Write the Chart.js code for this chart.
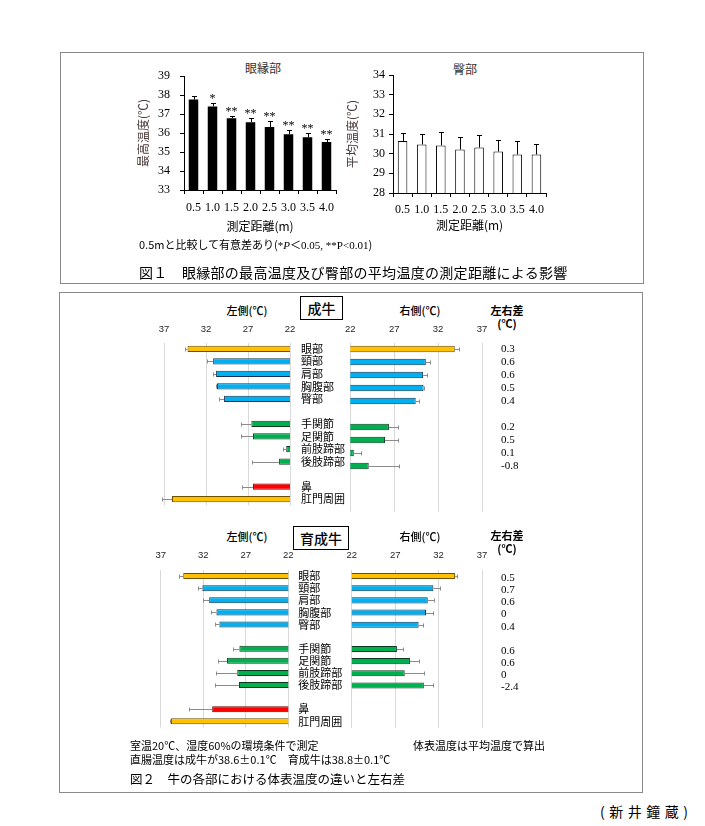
<!DOCTYPE html>
<html lang="ja">
<head>
<meta charset="utf-8">
<title>眼縁部・臀部の測定距離と牛の体表温度</title>
<script src="https://cdn.jsdelivr.net/npm/chart.js@4.4.1/dist/chart.umd.min.js"></script>
<style>
  html, body { margin: 0; padding: 0; background: #fff; }
  body { width: 705px; height: 826px; position: relative; overflow: hidden;
         font-family: "Noto Sans CJK JP", sans-serif; color: #000; }
  .box { position: absolute; border: 1.5px solid #8a8a8a; box-sizing: border-box; }
  .t { position: absolute; white-space: nowrap; line-height: 1; }
  .c { transform: translate(-50%, -50%); }
  .l { transform: translateY(-50%); }
  .chart { position: absolute; }
  .tag { position: absolute; border: 1.5px solid #000; box-sizing: border-box;
         display: flex; align-items: center; justify-content: center;
         font-size: 14px; font-weight: 500; }
</style>
</head>
<body>

<div class="box" style="left:60px; top:52px; width:584px; height:232px;"></div>
<div class="box" style="left:59px; top:292px; width:584px; height:501px;"></div>

<!-- 図1 -->
<div class="t c" style="left:263px; top:68px; font-size:12px; color:#333;">眼縁部</div>
<div class="t c" style="left:465px; top:69px; font-size:12px; color:#333;">臀部</div>
<div class="chart" style="left:130px; top:58px; width:215px; height:182px;"><canvas id="eyeChart"></canvas></div>
<div class="chart" style="left:335px; top:58px; width:220px; height:184px;"><canvas id="rumpChart"></canvas></div>
<div class="t l" style="left:139px; top:245px; font-size:11px;">0.5mと比較して有意差あり(<span style="font-family:'Liberation Serif'">*<i>P</i></span>＜<span style="font-family:'Liberation Serif'">0.05, **P&lt;0.01</span>)</div>
<div class="t l" style="left:139px; top:272px; font-size:14px; letter-spacing:0.3px;">図１　眼縁部の最高温度及び臀部の平均温度の測定距離による影響</div>

<!-- 図2 成牛 -->
<div class="t c" style="left:247px; top:310px; font-size:11px; font-weight:500;">左側(℃)</div>
<div class="tag" style="left:300px; top:296px; width:43px; height:24px;">成牛</div>
<div class="t c" style="left:420px; top:310px; font-size:11px; font-weight:500;">右側(℃)</div>
<div class="t c" style="left:507px; top:310px; font-size:11px; font-weight:700;">左右差</div>
<div class="t c" style="left:507px; top:323px; font-size:11px; font-weight:700;">(℃)</div>
<div class="chart" style="left:140px; top:318px; width:210px; height:205px;"><canvas id="adultLeft"></canvas></div>
<div class="chart" style="left:338px; top:318px; width:200px; height:205px;"><canvas id="adultRight"></canvas></div>

<!-- 図2 育成牛 -->
<div class="t c" style="left:247px; top:536px; font-size:11px; font-weight:500;">左側(℃)</div>
<div class="tag" style="left:293px; top:526px; width:56px; height:24px;">育成牛</div>
<div class="t c" style="left:420px; top:536px; font-size:11px; font-weight:500;">右側(℃)</div>
<div class="t c" style="left:507px; top:535px; font-size:11px; font-weight:700;">左右差</div>
<div class="t c" style="left:507px; top:548px; font-size:11px; font-weight:700;">(℃)</div>
<div class="chart" style="left:140px; top:544px; width:210px; height:200px;"><canvas id="youngLeft"></canvas></div>
<div class="chart" style="left:338px; top:544px; width:200px; height:200px;"><canvas id="youngRight"></canvas></div>

<div class="t l" style="left:130px; top:745px; font-size:11px;">室温20℃、湿度60%の環境条件で測定</div>
<div class="t l" style="left:413px; top:745px; font-size:11px;">体表温度は平均温度で算出</div>
<div class="t l" style="left:130px; top:759px; font-size:11px;">直腸温度は成牛が38.6±0.1℃　育成牛は38.8±0.1℃</div>
<div class="t l" style="left:130px; top:779px; font-size:12.5px;">図２　牛の各部における体表温度の違いと左右差</div>
<div class="t l" style="left:600px; top:811px; font-size:14px; letter-spacing:4.5px;">(新井鐘蔵)</div>

<script>
// 図1: 測定距離による影響
var distances = ['0.5', '1.0', '1.5', '2.0', '2.5', '3.0', '3.5', '4.0'];
var eyeMaxTemp = [37.76, 37.40, 36.78, 36.57, 36.31, 35.94, 35.78, 35.52];
var eyeMaxSd = [0.17, 0.20, 0.14, 0.21, 0.31, 0.24, 0.21, 0.16];
var eyeMarks = ['', '*', '**', '**', '**', '**', '**', '**'];
var rumpMeanTemp = [30.64, 30.47, 30.42, 30.21, 30.31, 30.11, 29.96, 29.96];
var rumpMeanSd = [0.41, 0.53, 0.68, 0.62, 0.62, 0.58, 0.68, 0.51];
var eyeAxis = [33, 39];
var rumpAxis = [28, 34];

// 図2: 各部の体表温度
var bodyParts = ['眼部', '頸部', '肩部', '胸腹部', '臀部', ' ', '手関節', '足関節', '前肢蹄部', '後肢蹄部', '  ', '鼻', '肛門周囲'];
var partGroups = ['eye', 'trunk', 'trunk', 'trunk', 'trunk', '', 'limb', 'limb', 'limb', 'limb', '', 'nose', 'anus'];
var tempTicks = [22, 27, 32, 37];

var adultLeft = [34.2, 31.15, 30.8, 30.7, 29.85, null, 26.6, 26.4, 22.45, 23.3, null, 26.4, 36.05];
var adultLeftSd = [0.3, 0.7, 0.35, 0.1, 0.65, null, 1.25, 1.4, 0.4, 3.2, null, 1.35, 1.2];
var adultRight = [33.9, 30.6, 30.3, 30.35, 29.45, null, 26.4, 25.95, 22.4, 24.1, null, null, null];
var adultRightSd = [0.45, 0.5, 0.45, 0.05, 0.4, null, 1.0, 1.45, 0.85, 3.4, null, null, null];
var adultDiff = ['0.3', '0.6', '0.6', '0.5', '0.4', '', '0.2', '0.5', '0.1', '-0.8', '', '', ''];

var youngLeft = [34.35, 32.1, 31.3, 30.45, 30.1, null, 27.75, 29.2, 28.0, 27.8, null, 30.95, 35.8];
var youngLeftSd = [0.55, 0.55, 0.7, 0.6, 0.5, null, 0.7, 1.05, 2.5, 2.8, null, 2.75, 0.1];
var youngRight = [33.9, 31.4, 30.75, 30.55, 29.7, null, 27.2, 28.7, 28.1, 30.3, null, null, null];
var youngRightSd = [0.25, 0.75, 0.7, 0.85, 0.55, null, 0.75, 1.0, 2.2, 1.1, null, null, null];
var youngDiff = ['0.5', '0.7', '0.6', '0', '0.4', '', '0.6', '0.6', '0', '-2.4', '', '', ''];

var groupFill = { eye: '#FFC000', trunk: '#00B0F0', limb: '#00B050', nose: '#FF0000', anus: '#FFC000' };
var groupEdge = { eye: '#6B5000', trunk: '#12324F', limb: '#0C3A1E', nose: '#6E0000', anus: '#6B5000' };

Chart.defaults.font.family = "'Noto Sans CJK JP', sans-serif";
Chart.defaults.color = '#000';
Chart.defaults.animation = false;

// 誤差線(上側のみ)
var errorBars = {
    id: 'errorBars',
    afterDatasetsDraw: function (chart) {
        var ds = chart.data.datasets[0];
        var meta = chart.getDatasetMeta(0);
        var horiz = chart.options.indexAxis === 'y';
        var vScale = horiz ? chart.scales.x : chart.scales.y;
        var ctx = chart.ctx;
        var cap = ds.errCap;
        ctx.save();
        ctx.strokeStyle = ds.errColor;
        ctx.lineWidth = 1;
        ds.data.forEach(function (v, i) {
            if (v == null || ds.errors[i] == null) return;
            var p1 = vScale.getPixelForValue(v);
            var p2 = Math.round(vScale.getPixelForValue(v + ds.errors[i])) + 0.5;
            var c = Math.round(horiz ? meta.data[i].y : meta.data[i].x) + 0.5;
            ctx.beginPath();
            if (horiz) {
                ctx.moveTo(p1, c); ctx.lineTo(p2, c);
                ctx.moveTo(p2, c - cap); ctx.lineTo(p2, c + cap);
            } else {
                ctx.moveTo(c, p1); ctx.lineTo(c, p2);
                ctx.moveTo(c - cap, p2); ctx.lineTo(c + cap, p2);
            }
            ctx.stroke();
        });
        ctx.restore();
    }
};

// 有意差の * 印
var sigMarks = {
    id: 'sigMarks',
    afterDatasetsDraw: function (chart) {
        var ds = chart.data.datasets[0];
        if (!ds.marks) return;
        var meta = chart.getDatasetMeta(0);
        var ctx = chart.ctx;
        ctx.save();
        ctx.font = "12px 'Liberation Serif'";
        ctx.textAlign = 'center';
        ctx.textBaseline = 'alphabetic';
        ctx.fillStyle = '#000';
        ds.marks.forEach(function (m, i) {
            if (!m) return;
            var top = chart.scales.y.getPixelForValue(ds.data[i] + ds.errors[i]);
            ctx.fillText(m, meta.data[i].x, top - 1);
        });
        ctx.restore();
    }
};

// 左右差の列
var diffColumn = {
    id: 'diffColumn',
    afterDraw: function (chart) {
        var ds = chart.data.datasets[0];
        if (!ds.diffs) return;
        var ctx = chart.ctx;
        var y = chart.scales.y;
        ctx.save();
        ctx.font = "11px 'Liberation Serif'";
        ctx.textAlign = 'left';
        ctx.textBaseline = 'middle';
        ctx.fillStyle = '#000';
        ds.diffs.forEach(function (d, i) {
            if (d === '') return;
            ctx.fillText(d, chart.chartArea.right + 19, y.getPixelForValue(i) + ds.diffShift);
        });
        ctx.restore();
    }
};

function distanceChart(id, values, sd, axis, opt) {
    return new Chart(document.getElementById(id), {
        type: 'bar',
        data: {
            labels: distances,
            datasets: [{
                data: values,
                errors: sd,
                errColor: '#000',
                errCap: 2.5,
                marks: opt.marks,
                backgroundColor: opt.fill,
                borderColor: '#000',
                borderWidth: opt.border,
                borderSkipped: 'bottom',
                barPercentage: 0.5,
                categoryPercentage: 1
            }]
        },
        options: {
            responsive: true,
            maintainAspectRatio: false,
            layout: { padding: opt.padding },
            plugins: { legend: { display: false }, tooltip: { enabled: false } },
            scales: {
                x: {
                    ticks: { font: { family: 'Liberation Serif', size: 12 }, color: '#000', padding: opt.xPad,
                             autoSkip: false, minRotation: 0, maxRotation: 0 },
                    grid: { drawOnChartArea: false, tickLength: 4, color: '#000' },
                    border: { color: '#000', width: 1 },
                    title: { display: true, text: '測定距離(m)', font: { size: 12 }, padding: 0, color: '#000' },
                    afterFit: function (s) { s.height = opt.xHeight; }
                },
                y: {
                    min: axis[0],
                    max: axis[1],
                    ticks: { stepSize: 1, font: { family: 'Liberation Serif', size: 12 }, color: '#000', padding: opt.yPad },
                    grid: { drawOnChartArea: false, tickLength: 4, color: '#000' },
                    border: { color: '#000', width: 1 },
                    title: { display: true, text: opt.yTitle, font: { size: 12 }, padding: 0, color: '#4a3a3a' },
                    afterFit: function (s) { s.width = opt.yWidth; }
                }
            }
        },
        plugins: [errorBars, sigMarks]
    });
}

function sideChart(id, values, sd, opt) {
    return new Chart(document.getElementById(id), {
        type: 'bar',
        data: {
            labels: bodyParts,
            datasets: [{
                data: values,
                errors: sd,
                errColor: '#8c8c8c',
                errCap: 2,
                diffs: opt.diffs,
                diffShift: opt.diffShift || 0,
                backgroundColor: partGroups.map(function (g) { return groupFill[g] || '#fff'; }),
                borderColor: partGroups.map(function (g) { return groupEdge[g] || '#000'; }),
                borderWidth: 1,
                barPercentage: 0.5,
                categoryPercentage: 1
            }]
        },
        options: {
            indexAxis: 'y',
            responsive: true,
            maintainAspectRatio: false,
            layout: { padding: opt.padding },
            plugins: { legend: { display: false }, tooltip: { enabled: false } },
            scales: {
                x: {
                    position: 'top',
                    reverse: opt.left,
                    min: tempTicks[0],
                    max: tempTicks[tempTicks.length - 1],
                    afterBuildTicks: function (s) { s.ticks = tempTicks.map(function (v) { return { value: v }; }); },
                    ticks: { font: { family: 'Liberation Sans', size: 9.5 }, color: '#262626', padding: opt.tickPad },
                    grid: { color: '#d9d9d9', drawTicks: false },
                    border: { display: false },
                    afterFit: function (s) { s.height = 20; }
                },
                y: {
                    display: opt.left,
                    position: 'right',
                    grid: { display: false, drawTicks: false },
                    border: { display: false },
                    ticks: { autoSkip: false, font: { size: 11 }, color: '#000', padding: opt.labelPad },
                    afterFit: function (s) { if (opt.left) s.width = opt.labelWidth; }
                }
            }
        },
        plugins: [errorBars, diffColumn]
    });
}

distanceChart('eyeChart', eyeMaxTemp, eyeMaxSd, eyeAxis, {
    marks: eyeMarks, fill: '#000', border: 0, yTitle: '最高温度(℃)',
    padding: { left: 6, top: 18, right: 9, bottom: 6 }, yWidth: 48, xHeight: 44, xPad: 7, yPad: 10
});
distanceChart('rumpChart', rumpMeanTemp, rumpMeanSd, rumpAxis, {
    marks: null, fill: '#fff', border: 1, yTitle: '平均温度(℃)',
    padding: { left: 10, top: 17, right: 9, bottom: 9 }, yWidth: 48, xHeight: 40, xPad: 6, yPad: 4
});

sideChart('adultLeft', adultLeft, adultLeftSd, {
    left: true, padding: { left: 24, top: 4.5, right: 0, bottom: 11.5 }, tickPad: 7, labelPad: 11, labelWidth: 60
});
sideChart('adultRight', adultRight, adultRightSd, {
    left: false, diffs: adultDiff, padding: { left: 12, top: 4.5, right: 56, bottom: 11.5 }, tickPad: 7
});
sideChart('youngLeft', youngLeft, youngLeftSd, {
    left: true, padding: { left: 20.7, top: 6, right: 0, bottom: 16 }, tickPad: 8.5, labelPad: 10, labelWidth: 61.7
});
sideChart('youngRight', youngRight, youngRightSd, {
    left: false, diffs: youngDiff, diffShift: 2, padding: { left: 12, top: 6, right: 56, bottom: 16 }, tickPad: 8.5
});
</script>
</body>
</html>
